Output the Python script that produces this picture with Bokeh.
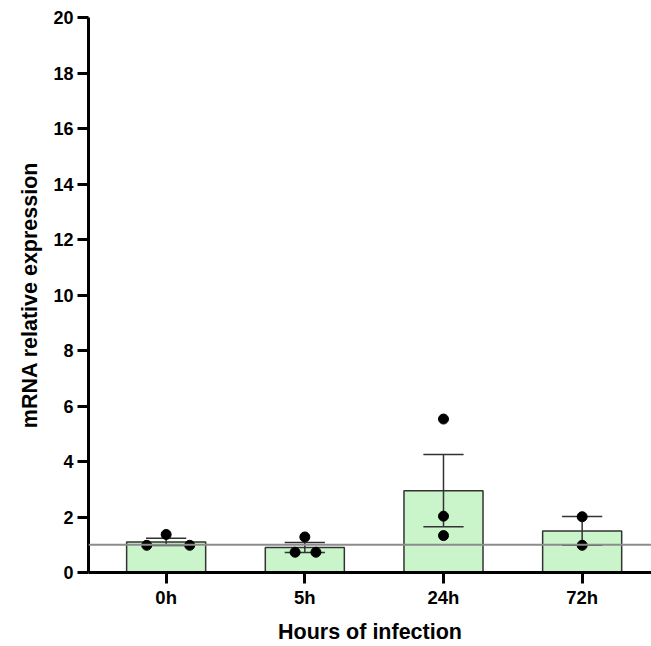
from bokeh.plotting import figure
from bokeh.models import Span, FixedTicker
from bokeh.embed import file_html
from bokeh.resources import INLINE

categories = ["0h", "5h", "24h", "72h"]
means = [1.10, 0.90, 2.95, 1.50]
sems = [0.13, 0.18, 1.30, 0.52]
points_cat = [0, 0, 0, 1, 1, 1, 2, 2, 2, 3, 3]
points_off = [-0.14, 0.0, 0.17, -0.07, 0.0, 0.08, 0.0, 0.0, 0.0, 0.0, 0.0]
points_val = [0.98, 1.37, 0.98, 0.73, 1.28, 0.73, 5.53, 2.03, 1.33, 2.01, 0.98]
y_ticks = [0, 2, 4, 6, 8, 10, 12, 14, 16, 18, 20]
reference_level = 1.0

FONT = "Liberation Sans"

p = figure(width=651, height=646, output_backend="svg", toolbar_location=None,
           x_range=(-0.56, 3.5), y_range=(0, 20),
           min_border_left=88, min_border_right=0, min_border_top=17, min_border_bottom=73)
p.outline_line_color = None
p.grid.visible = False
p.background_fill_color = "white"

p.add_layout(Span(location=reference_level, dimension="width", line_color="#8c8c8c", line_width=2))

xs = list(range(len(categories)))
p.vbar(x=xs, top=means, bottom=0, width=0.57, fill_color="#caf5ca", line_color="#333333", line_width=1.5)

lo = [m - s for m, s in zip(means, sems)]
hi = [m + s for m, s in zip(means, sems)]
p.segment(x0=xs, y0=lo, x1=xs, y1=hi, line_color="#333333", line_width=1.5)
cw = 0.145
p.segment(x0=[x - cw for x in xs], y0=hi, x1=[x + cw for x in xs], y1=hi, line_color="#333333", line_width=1.5)
p.segment(x0=[x - cw for x in xs], y0=lo, x1=[x + cw for x in xs], y1=lo, line_color="#333333", line_width=1.5)

px = [c + o for c, o in zip(points_cat, points_off)]
p.scatter(x=px, y=points_val, size=10, fill_color="black", line_color="black")

for ax in (p.xaxis[0], p.yaxis[0]):
    ax.axis_line_width = 3
    ax.axis_line_color = "black"
    ax.major_tick_line_width = 3
    ax.major_tick_line_color = "black"
    ax.major_tick_out = 11
    ax.major_tick_in = 0
    ax.minor_tick_line_color = None
    ax.major_label_text_font = FONT
    ax.major_label_text_font_style = "bold"
    ax.major_label_text_font_size = "18px"
    ax.major_label_text_color = "black"
    ax.axis_label_text_font = FONT
    ax.axis_label_text_font_style = "bold"
    ax.axis_label_text_font_size = "21.5px"
    ax.axis_label_text_color = "black"

p.yaxis.ticker = FixedTicker(ticks=y_ticks)
p.yaxis.major_label_standoff = 4
p.yaxis.axis_label = "mRNA relative expression"
p.yaxis.axis_label_standoff = 8

p.xaxis.ticker = FixedTicker(ticks=xs)
p.xaxis.major_label_overrides = {i: c for i, c in enumerate(categories)}
p.xaxis.major_label_text_font_size = "18.5px"
p.xaxis.major_label_standoff = 3
p.xaxis.axis_label = "Hours of infection"
p.xaxis.axis_label_standoff = 9

open("out.html", "w").write(file_html(p, INLINE))
